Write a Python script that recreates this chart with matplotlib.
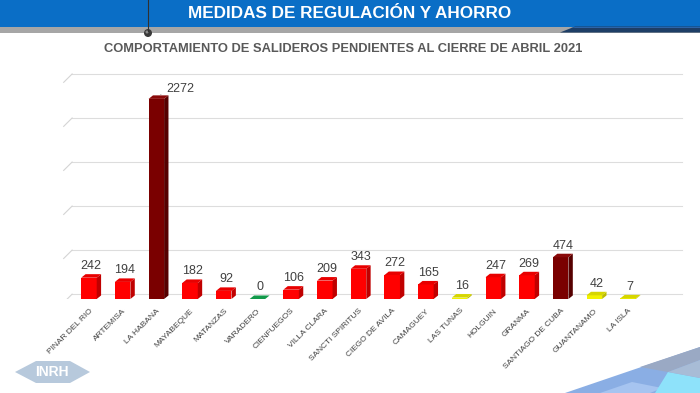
import matplotlib.pyplot as plt
from matplotlib.patches import Polygon, Rectangle, Circle

provinces = [
    "PINAR DEL RIO", "ARTEMISA", "LA HABANA", "MAYABEQUE", "MATANZAS",
    "VARADERO", "CIENFUEGOS", "VILLA CLARA", "SANCTI SPIRITUS",
    "CIEGO DE AVILA", "CAMAGUEY", "LAS TUNAS", "HOLGUIN", "GRANMA",
    "SANTIAGO DE CUBA", "GUANTANAMO", "LA ISLA",
]
pending = [242, 194, 2272, 182, 92, 0, 106, 209, 343, 272, 165, 16, 247,
           269, 474, 42, 7]
levels = ["red", "red", "dark", "red", "red", "green", "red", "red", "red",
          "red", "red", "yellow", "red", "red", "dark", "yellow", "yellow"]
grid_values = [0, 500, 1000, 1500, 2000, 2500]

# front, side, top
SHADES = {
    "red": ("#FF0000", "#C00000", "#E80000"),
    "dark": ("#7A0000", "#560000", "#8A0A0A"),
    "yellow": ("#F2F200", "#BDBD00", "#D6D600"),
    "green": ("#00A050", "#007838", "#129A4A"),
}

plt.rcParams["font.family"] = ["Liberation Sans", "DejaVu Sans"]

fig = plt.figure(figsize=(7, 3.93), dpi=100)

# slide decoration in pixel coordinates
deco = fig.add_axes([0, 0, 1, 1])
deco.set_xlim(0, 700)
deco.set_ylim(393, 0)
deco.axis("off")

deco.add_patch(Rectangle((0, 0), 700, 26.5, color="#0A6EC6", lw=0))
deco.add_patch(Rectangle((0, 26.5), 700, 6, color="#A6A6A6", lw=0))
deco.add_patch(Polygon([(560, 32.5), (575, 26.5), (700, 26.5), (700, 32.5)],
                       color="#1E3E66", lw=0))
deco.add_patch(Polygon([(575, 26.5), (700, 26.5), (700, 28), (571, 28)],
                       color="#2C64A8", lw=0))
deco.plot([148, 148], [0, 31], color="#303030", lw=0.8)
deco.add_patch(Circle((148, 33), 4, color="#3A3A3A", lw=0))
deco.add_patch(Circle((147, 32), 1.5, color="#8A8A8A", lw=0))
deco.text(350, 13.5, "MEDIDAS DE REGULACIÓN Y AHORRO", color="white",
          fontsize=12.3, fontweight="bold", ha="center", va="center",
          family=["Liberation Sans Narrow", "Liberation Sans"])
deco.text(343, 49, "COMPORTAMIENTO DE SALIDEROS PENDIENTES AL CIERRE DE ABRIL 2021",
          color="#595959", fontsize=9.3, fontweight="bold",
          ha="center", va="center")

# INRH logo
deco.add_patch(Polygon([(15, 372), (36, 361), (70, 361), (90, 372), (70, 383),
                        (36, 383)], color="#B7C9DC", lw=0))
deco.text(52, 372.5, "INRH", color="white", fontsize=10, fontweight="bold",
          ha="center", va="center")

# bottom-right tiles
deco.add_patch(Polygon([(565, 393), (700, 347), (700, 393)],
                       color="#8AAEE4", lw=0))
deco.add_patch(Polygon([(640, 367), (700, 347), (700, 360), (668, 372)],
                       color="#9AA9C4", lw=0))
deco.add_patch(Polygon([(600, 393), (632, 382), (662, 388), (650, 393)],
                       color="#A6C4F0", lw=0))
deco.add_patch(Polygon([(655, 393), (668, 372), (700, 378), (700, 393)],
                       color="#8EE2FA", lw=0))
deco.add_patch(Polygon([(668, 372), (700, 360), (700, 378)],
                       color="#A8BCD6", lw=0))

# chart
ax = fig.add_axes([62 / 700, 94 / 393, 622 / 700, 229 / 393])
ax.patch.set_alpha(0)
ax.set_xlim(-0.80, 17.66)
ax.set_ylim(0, 2600)
for spine in ax.spines.values():
    spine.set_visible(False)

width = 0.46
dx, dy = 0.13, 40

for v in grid_values:
    ax.plot([-0.5, 17.6], [v + 55, v + 55], color="#DDDDDD", lw=0.8,
            zorder=0)
    ax.plot([-0.75, -0.5], [v - 40, v + 55], color="#D4D4D4", lw=0.8,
            zorder=0)

xs = list(range(len(provinces)))
fronts = [SHADES[c][0] for c in levels]
ax.bar(xs, pending, width=width, color=fronts, lw=0, zorder=2)

for x, v, c in zip(xs, pending, levels):
    front, side, top = SHADES[c]
    left, right = x - width / 2, x + width / 2
    ax.add_patch(Polygon([(right, 0), (right + dx, dy), (right + dx, v + dy),
                          (right, v)], color=side, lw=0, zorder=2))
    ax.add_patch(Polygon([(left, v), (left + dx, v + dy),
                          (right + dx, v + dy), (right, v)],
                         color=top, lw=0, zorder=3))
    if v > 2000:
        ax.annotate(str(v), xy=(x + 0.05, v + dy), xytext=(x + 0.3, v + 110),
                    fontsize=9, color="#404040", ha="left", va="center",
                    arrowprops=dict(arrowstyle="-", color="#8C8C8C", lw=0.6))
    else:
        ax.annotate(str(v), xy=(x + dx / 2, v + dy), xytext=(0, 1.5),
                    textcoords="offset points", fontsize=9, color="#404040",
                    ha="center", va="bottom")

ax.set_yticks([])
ax.set_xticks(xs)
ax.set_xticklabels(provinces, rotation=45, ha="right", rotation_mode="anchor",
                   fontsize=6, color="#404040")
ax.tick_params(axis="x", length=0, pad=6)

fig.savefig("out.png", dpi=100)
